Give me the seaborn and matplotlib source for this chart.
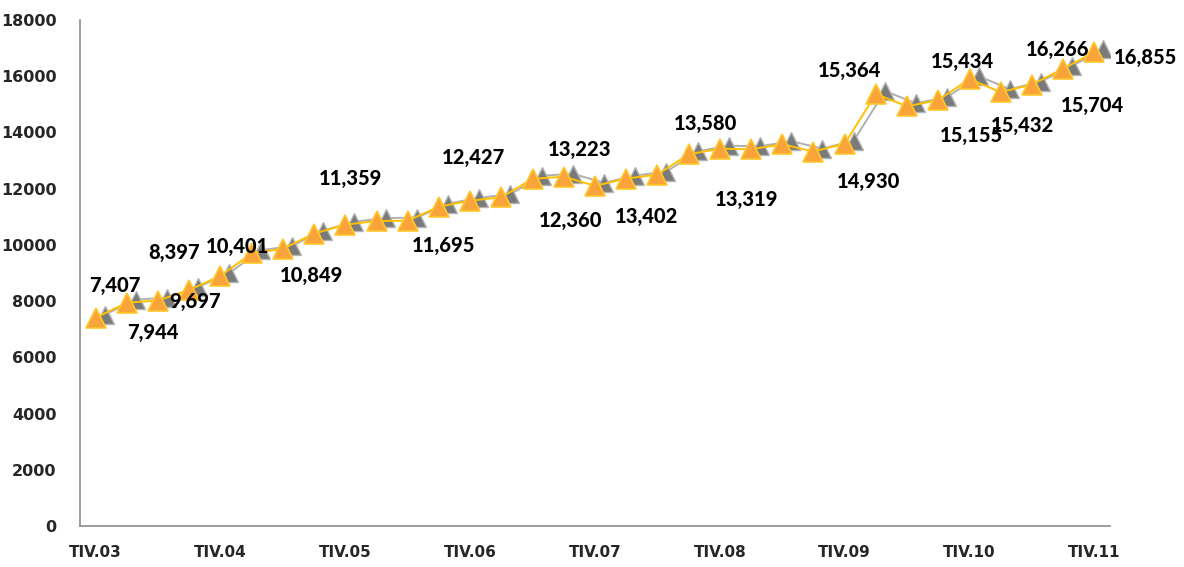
import matplotlib
matplotlib.use("Agg")
import matplotlib.pyplot as plt
import matplotlib.transforms as mtransforms
import numpy as np
import pandas as pd
import seaborn as sns

# quarterly categories (only TIV labels are shown on the axis)
quarters = [
    "TIV.03", "TI.04", "TII.04", "TIII.04", "TIV.04", "TI.05", "TII.05", "TIII.05",
    "TIV.05", "TI.06", "TII.06", "TIII.06", "TIV.06", "TI.07", "TII.07", "TIII.07",
    "TIV.07", "TI.08", "TII.08", "TIII.08", "TIV.08", "TI.09", "TII.09", "TIII.09",
    "TIV.09", "TI.10", "TII.10", "TIII.10", "TIV.10", "TI.11", "TII.11", "TIII.11",
    "TIV.11",
]
values = [
    7407, 7944, 8020, 8397, 8900, 9697, 9860, 10401,
    10720, 10849, 10860, 11359, 11570, 11695, 12350, 12427,
    12100, 12360, 12500, 13223, 13420, 13402, 13580, 13319,
    13600, 15364, 14930, 15155, 15900, 15432, 15704, 16266,
    16855,
]

# data labels: text and the point they belong to
label_texts = ["7,407", "7,944", "8,397", "9,697", "10,401", "10,849", "11,359",
               "11,695", "12,427", "12,360", "13,223", "13,402", "13,580", "13,319",
               "15,364", "14,930", "15,434", "15,155", "15,432", "15,704", "16,266",
               "16,855"]
label_points = [0, 1, 3, 3, 5, 7, 8, 11, 12, 15, 15, 17, 19, 21, 25, 24, 28, 28, 29, 31, 31, 32]
# placement of each label relative to its point (pixels)
label_offsets = [(19, 32), (26, -30), (-15, 37), (6, -12), (-14, 7), (-3, -42), (5, 46),
                 (5, -39), (3, 43), (7, -44), (16, 27), (20, -38), (17, 31), (-4, -50),
                 (-26, 24), (24, -38), (-7, 18), (2, -56), (22, -33), (29, -37), (-6, 19),
                 (51, -5)]

df = pd.DataFrame({"idx": np.arange(len(values)), "value": values})

sns.set_theme(style="white")
fig = plt.figure(figsize=(11.84, 5.67), dpi=100)
ax = fig.add_axes([80 / 1184, 41 / 567, 1030 / 1184, 506 / 567])

# grey shadow series
shadow = mtransforms.offset_copy(ax.transData, fig=fig, x=9, y=3, units="dots")
ax.plot(df["idx"], df["value"], color="#b0b0b0", lw=1.4, marker="^", markersize=13,
        markerfacecolor="#7a7a7a", markeredgecolor="#b4b4b4", markeredgewidth=1.0,
        transform=shadow, zorder=2)

sns.lineplot(data=df, x="idx", y="value", ax=ax, color="#FFC000", lw=1.4, marker="^",
             markersize=14, markerfacecolor="#F8A43A", markeredgecolor="#FFC72C",
             markeredgewidth=1.2, zorder=3)

for txt, p, (dx, dy) in zip(label_texts, label_points, label_offsets):
    ax.annotate(txt, (p, values[p]), xytext=(dx, dy), textcoords="offset pixels",
                ha="center", va="center", fontsize=14.5, fontweight="black",
                family="Lato", color="black", zorder=5)

ax.set_xlim(-0.5, len(values) - 0.5)
ax.set_ylim(0, 18000)
ax.set_yticks(np.arange(0, 18001, 2000))
ax.set_yticklabels([str(v) for v in range(0, 18001, 2000)], fontsize=11.5,
                   fontweight="bold", family="DejaVu Sans")
ax.set_xticks(np.arange(0, len(values), 4))
ax.set_xticklabels(quarters[::4], fontsize=11, fontweight="bold", family="DejaVu Sans")
ax.set_xticks(np.arange(-0.5, len(values), 1), minor=True)
ax.tick_params(axis="x", which="major", length=0, pad=14)
ax.tick_params(axis="x", which="minor", length=7, width=1, color="#8c8c8c", direction="out")
ax.tick_params(axis="y", length=6, width=1, color="#8c8c8c", direction="out", pad=11)
ax.set_xlabel("")
ax.set_ylabel("")

for s in ["top", "right"]:
    ax.spines[s].set_visible(False)
for s in ["left", "bottom"]:
    ax.spines[s].set_color("#8c8c8c")
    ax.spines[s].set_linewidth(1.2)

fig.savefig("out.png", dpi=100)
